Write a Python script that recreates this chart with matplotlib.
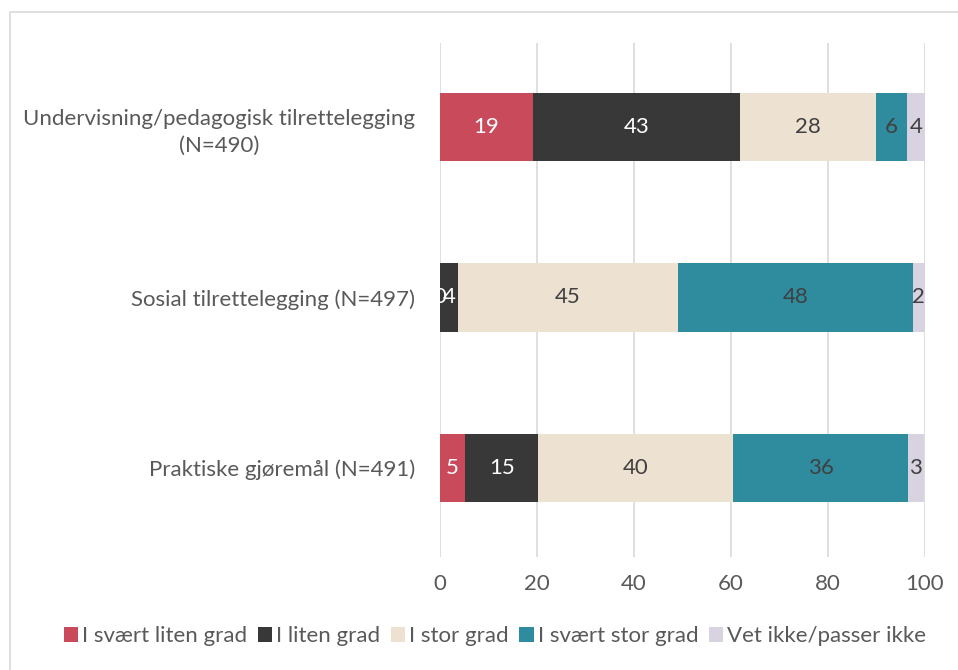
import matplotlib

matplotlib.use("Agg")

import matplotlib.pyplot as plt
import numpy as np
from matplotlib.patches import Rectangle

categories = [
    "Undervisning/pedagogisk tilrettelegging\n(N=490)",
    "Sosial tilrettelegging (N=497)",
    "Praktiske gjøremål (N=491)",
]
series_names = [
    "I svært liten grad",
    "I liten grad",
    "I stor grad",
    "I svært stor grad",
    "Vet ikke/passer ikke",
]
# percent per category, one list per series
svaert_liten = [19.2, 0.0, 5.2]
liten = [42.7, 3.7, 15.0]
stor = [28.0, 45.4, 40.3]
svaert_stor = [6.4, 48.4, 35.9]
vet_ikke = [3.7, 2.4, 3.4]
xticks = [0, 20, 40, 60, 80, 100]

SERIES = [svaert_liten, liten, stor, svaert_stor, vet_ikke]
COLORS = ["#C94A5A", "#383838", "#EDE1D1", "#2E8C9E", "#D9D2E1"]
LABEL_COLORS = ["white", "white", "#404040", "#404040", "#404040"]
TEXT = "#595959"
FS = 16

plt.rcParams["font.family"] = ["Lato", "DejaVu Sans"]

fig = plt.figure(figsize=(9.58, 6.7), dpi=100)
fig.patches.append(
    Rectangle((10 / 958, -0.1), 1.2, 1 - 12 / 670 + 0.1, transform=fig.transFigure,
              fill=False, edgecolor="#D9D9D9", linewidth=1.2)
)
ax = fig.add_axes([440 / 958, 1 - 557 / 670, 485 / 958, 514 / 670])

y = np.arange(len(categories))
left = np.zeros(len(categories))
handles = []
for idx, (name, values) in enumerate(zip(series_names, SERIES)):
    values = np.array(values)
    bars = ax.barh(y, values, left=left, height=0.4, color=COLORS[idx], label=name, zorder=3)
    handles.append(bars)
    for yi, (l, v) in enumerate(zip(left, values)):
        ax.text(l + v / 2, yi, f"{v:.0f}", ha="center", va="center",
                fontsize=FS, color=LABEL_COLORS[idx], zorder=4)
    left = left + values

ax.set_xlim(0, 100)
ax.set_ylim(2.52, -0.49)
ax.set_xticks(xticks)
ax.set_xticklabels([str(t) for t in xticks], fontsize=FS, color=TEXT)
ax.set_yticks(y)
ax.set_yticklabels(categories, fontsize=FS, color=TEXT, multialignment="center",
                   linespacing=1.45)
ax.tick_params(axis="both", length=0)
ax.tick_params(axis="x", pad=12)
ax.tick_params(axis="y", pad=18)
ax.grid(axis="x", color="#D9D9D9", linewidth=1.2, zorder=0)
for spine in ax.spines.values():
    spine.set_visible(False)

fig.legend(handles=handles, labels=series_names, loc="center",
           bbox_to_anchor=(495 / 958, 1 - 636 / 670), ncol=5, frameon=False,
           fontsize=FS, handlelength=0.65, handleheight=0.65, handletextpad=0.2,
           columnspacing=0.45, labelcolor=TEXT)

fig.savefig("out.png", dpi=100)
